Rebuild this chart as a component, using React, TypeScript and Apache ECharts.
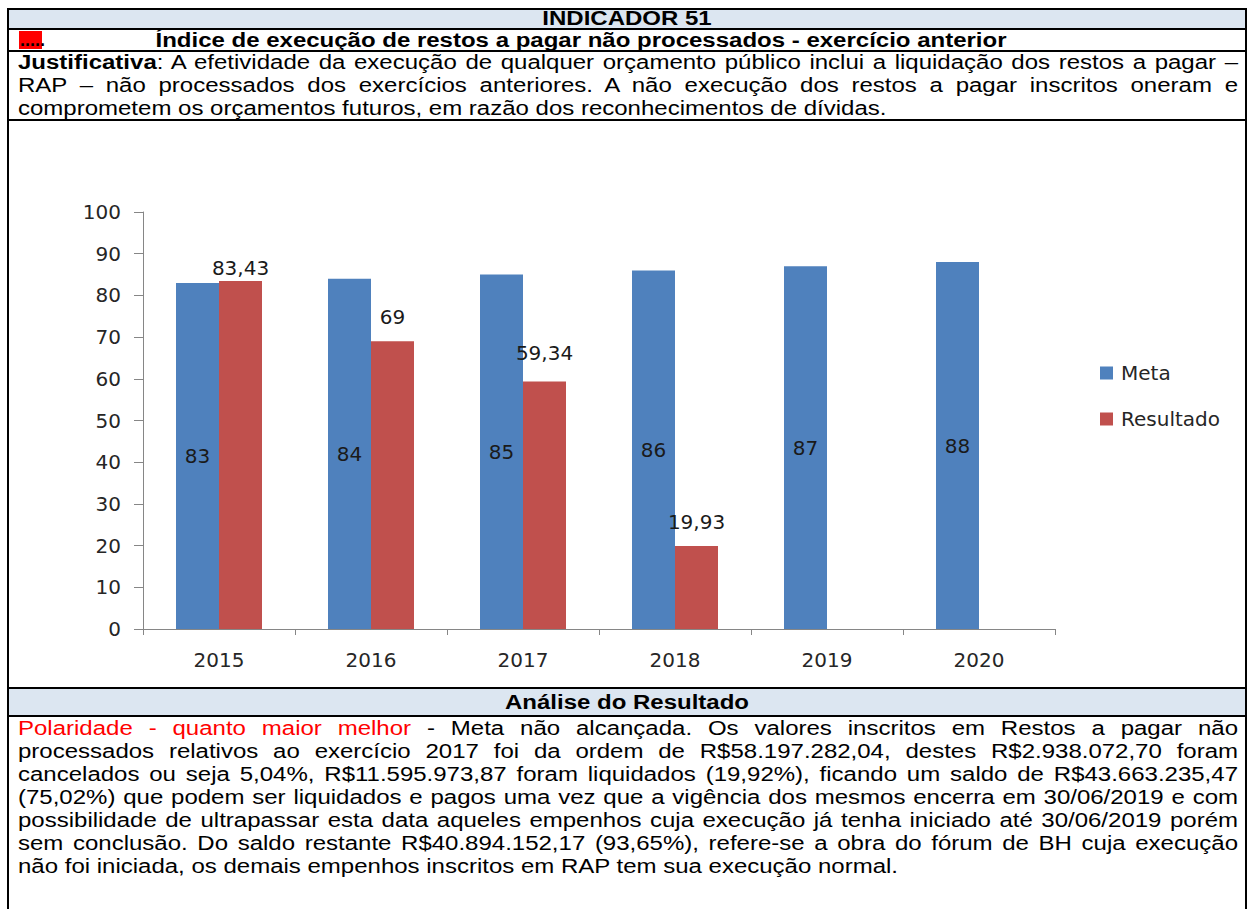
import React, { useEffect, useRef } from "react";
import * as echarts from "echarts";

const years = ["2015", "2016", "2017", "2018", "2019", "2020"];
const metaValues = [83, 84, 85, 86, 87, 88];
const resultadoValues: (number | null)[] = [83.43, 69, 59.34, 19.93, null, null];
const resultadoLabelGaps = [3, 14, 19, 14, 0, 0];
const seriesNames = ["Meta", "Resultado"];

const headerTitle = "INDICADOR 51";
const indicatorTitle = "Índice de execução de restos a pagar não processados - exercício anterior";
const justificativaLines = [
  "A efetividade da execução de qualquer orçamento público inclui a liquidação dos restos a pagar –",
  "RAP – não processados dos exercícios anteriores. A não execução dos restos a pagar inscritos oneram e",
  "comprometem os orçamentos futuros, em razão dos reconhecimentos de dívidas.",
];
const analiseTitle = "Análise do Resultado";
const polaridade = "Polaridade - quanto maior melhor";
const analiseLines = [
  " - Meta não alcançada. Os valores inscritos em Restos a pagar não",
  "processados relativos ao exercício 2017 foi da ordem de R$58.197.282,04, destes R$2.938.072,70 foram",
  "cancelados ou seja 5,04%, R$11.595.973,87 foram liquidados (19,92%), ficando um saldo de R$43.663.235,47",
  "(75,02%) que podem ser liquidados e pagos uma vez que a vigência dos mesmos encerra em 30/06/2019 e com",
  "possibilidade de ultrapassar esta data aqueles empenhos cuja execução já tenha iniciado até 30/06/2019 porém",
  "sem conclusão. Do saldo restante R$40.894.152,17 (93,65%), refere-se a obra do fórum de BH cuja execução",
  "não foi iniciada, os demais empenhos inscritos em RAP tem sua execução normal.",
];

const SX = 1.2;
const FONT = "'Liberation Sans', Arial, sans-serif";
const CH_FONT = "'DejaVu Sans', Verdana, sans-serif";

function Stretched(props: { left: number; top: number; width: number; children: React.ReactNode; center?: boolean }) {
  return (
    <div
      style={{
        position: "absolute",
        left: props.left,
        top: props.top,
        width: props.width / SX,
        transform: `scaleX(${SX})`,
        transformOrigin: "left top",
        textAlign: props.center ? "center" : "left",
      }}
    >
      {props.children}
    </div>
  );
}

function JLine(props: { children: React.ReactNode; last?: boolean }) {
  return (
    <div
      style={{
        height: 23,
        lineHeight: "23px",
        textAlign: props.last ? "left" : "justify",
        textAlignLast: props.last ? "left" : "justify",
      } as React.CSSProperties}
    >
      {props.children}
    </div>
  );
}

function Chart() {
  const ref = useRef<HTMLDivElement>(null);
  useEffect(() => {
    if (!ref.current) return;
    const chart = echarts.init(ref.current, null, { renderer: "svg" });
    const axisColor = "#868686";
    const txt = "#262626";
    chart.setOption({
      animation: false,
      backgroundColor: "#ffffff",
      textStyle: { fontFamily: CH_FONT },
      grid: { left: 134, top: 91, width: 912, height: 417, containLabel: false },
      legend: {
        orient: "vertical",
        left: 1091,
        top: 242,
        padding: 0,
        itemWidth: 13,
        itemHeight: 13,
        itemGap: 26,
        icon: "rect",
        data: seriesNames,
        textStyle: { fontFamily: CH_FONT, fontSize: 20, color: txt, padding: [0, 0, 0, 3] },
      },
      xAxis: {
        type: "category",
        data: years,
        axisLine: { lineStyle: { color: axisColor, width: 1 } },
        axisTick: { show: true, length: 6, lineStyle: { color: axisColor } },
        axisLabel: { margin: 21, fontFamily: CH_FONT, fontSize: 20, color: txt },
      },
      yAxis: {
        type: "value",
        min: 0,
        max: 100,
        interval: 10,
        axisLine: { show: true, lineStyle: { color: axisColor, width: 1 } },
        axisTick: { show: true, length: 9, lineStyle: { color: axisColor } },
        splitLine: { show: false },
        axisLabel: { margin: 22, fontFamily: CH_FONT, fontSize: 20, color: txt },
      },
      series: [
        {
          name: seriesNames[0],
          type: "bar",
          data: metaValues,
          barWidth: 43,
          barGap: "0%",
          itemStyle: { color: "#4f81bd" },
          label: {
            show: true,
            position: "inside",
            fontFamily: CH_FONT,
            fontSize: 20,
            color: "#1a1a1a",
          },
        },
        {
          name: seriesNames[1],
          type: "bar",
          data: resultadoValues.map((v, i) => ({ value: v, label: { distance: resultadoLabelGaps[i] } })),
          barWidth: 43,
          barGap: "0%",
          itemStyle: { color: "#c0504d" },
          label: {
            show: true,
            position: "top",
            distance: 5,
            fontFamily: CH_FONT,
            fontSize: 20,
            color: "#1a1a1a",
            formatter: (p: any) => (p.value == null ? "" : String(p.value).replace(".", ",")),
          },
        },
      ],
    });
    return () => chart.dispose();
  }, []);
  return <div ref={ref} style={{ position: "absolute", left: 9, top: 121, width: 1236, height: 566 }} />;
}

export default function App() {
  const hline = (y: number) => (
    <div style={{ position: "absolute", left: 7, top: y, width: 1240, height: 2, background: "#000" }} />
  );
  return (
    <div
      style={{
        position: "fixed",
        left: 0,
        top: 0,
        width: 1250,
        height: 909,
        overflow: "hidden",
        background: "#fff",
        fontFamily: FONT,
        fontSize: 20,
        color: "#000",
      }}
    >
      <div style={{ position: "absolute", left: 9, top: 10, width: 1236, height: 18, background: "#dce6f1" }} />
      <div style={{ position: "absolute", left: 9, top: 689, width: 1236, height: 26, background: "#dce6f1" }} />
      <div style={{ position: "absolute", left: 19, top: 31, width: 23, height: 18, background: "#ff0000" }} />
      <Chart />
      <div
        style={{
          position: "absolute",
          left: 7,
          top: 8,
          width: 1240,
          height: 920,
          border: "2px solid #000",
          boxSizing: "border-box",
        }}
      />
      {hline(28)}
      {hline(50)}
      {hline(119)}
      {hline(687)}
      {hline(715)}
      <Stretched left={8} top={7} width={1238} center>
        <div style={{ fontWeight: "bold", lineHeight: "23px" }}>{headerTitle}</div>
      </Stretched>
      <div style={{ position: "absolute", left: 20, top: 29, fontWeight: "bold", lineHeight: "23px", fontSize: 18 }}>
        .....
      </div>
      <Stretched left={44} top={29} width={1074} center>
        <div style={{ fontWeight: "bold", lineHeight: "23px" }}>{indicatorTitle}</div>
      </Stretched>
      <Stretched left={18} top={51} width={1220}>
        <JLine>
          <b>Justificativa</b>: {justificativaLines[0]}
        </JLine>
        <JLine>{justificativaLines[1]}</JLine>
        <JLine last>{justificativaLines[2]}</JLine>
      </Stretched>
      <Stretched left={8} top={691} width={1238} center>
        <div style={{ fontWeight: "bold", lineHeight: "23px" }}>{analiseTitle}</div>
      </Stretched>
      <Stretched left={18} top={717} width={1220}>
        {analiseLines.map((l, i) => (
          <JLine key={i} last={i === analiseLines.length - 1}>
            {i === 0 ? <span style={{ color: "#ff0000" }}>{polaridade}</span> : null}
            {l}
          </JLine>
        ))}
      </Stretched>
    </div>
  );
}
